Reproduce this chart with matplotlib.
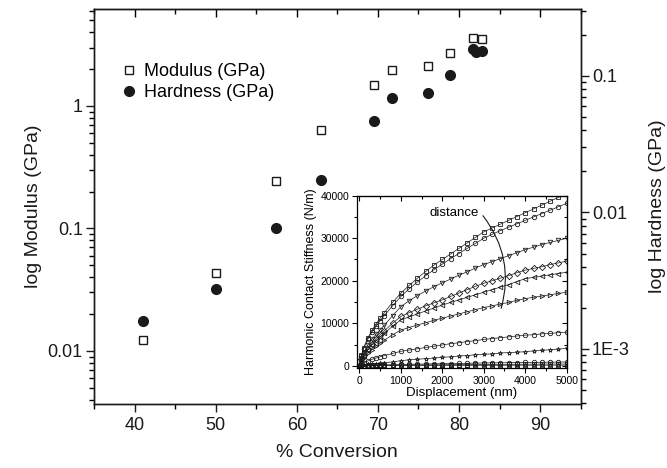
import matplotlib
matplotlib.use("Agg")
import matplotlib.pyplot as plt
from matplotlib.ticker import FixedLocator, FuncFormatter, LogLocator, MultipleLocator, NullFormatter
from matplotlib.lines import Line2D

plt.rcParams["font.family"] = ["Liberation Sans", "DejaVu Sans"]

# ── 主图数据：转化率 vs 模量 / 硬度 ──
conv_mod = [41, 50, 57.4, 63, 69.5, 71.8, 76.2, 78.9, 81.7, 82.8]
modulus = [0.0122, 0.0435, 0.243, 0.631, 1.49, 1.96, 2.13, 2.70, 3.56, 3.51]

conv_hard = [41, 50, 57.4, 63, 69.5, 71.8, 76.2, 78.9, 81.7, 82.1, 82.8]
hardness = [0.00161, 0.00275, 0.00774, 0.0173, 0.0471, 0.0690, 0.0755, 0.1017, 0.158, 0.149, 0.153]

# ── 插图数据：接触刚度 vs 位移 ──
disp_nm = [0, 50, 100, 200, 300, 400, 500, 600, 800, 1000, 1200, 1400, 1600, 1800, 2000,
           2200, 2400, 2600, 2800, 3000, 3200, 3400, 3600, 3800, 4000, 4200, 4400, 4600, 4800, 5000]
stiff_a1 = [0, 2500, 4200, 6500, 8300, 9800, 11200, 12500, 14900, 17100, 18900, 20600, 22200, 23700, 25000,
            26300, 27600, 28900, 30200, 31500, 32400, 33300, 34200, 35100, 36000, 36900, 37800, 38700, 39600, 40500]
stiff_a2 = [0, 2400, 4000, 6200, 7900, 9300, 10600, 11800, 14100, 16300, 18100, 19700, 21200, 22600, 23900,
            25200, 26400, 27600, 28800, 30000, 30900, 31800, 32600, 33400, 34200, 35000, 35800, 36600, 37400, 38200]
stiff_b = [0, 1800, 3000, 4800, 6200, 7400, 8500, 9500, 11800, 13900, 15300, 16500, 17600, 18600, 19500,
           20400, 21300, 22100, 23000, 23800, 24500, 25200, 25900, 26600, 27300, 27900, 28500, 29000, 29500, 30000]
stiff_c = [0, 1500, 2500, 4000, 5200, 6300, 7300, 8200, 10000, 11600, 12500, 13300, 14100, 14800, 15500,
           16300, 17100, 17900, 18700, 19400, 20000, 20600, 21200, 21900, 22500, 22900, 23300, 23800, 24200, 24600]
stiff_d = [0, 1400, 2300, 3700, 4900, 5900, 6800, 7600, 9300, 10800, 11500, 12200, 12900, 13600, 14300,
           14900, 15500, 16100, 16700, 17300, 17900, 18500, 19100, 19800, 20500, 20800, 21100, 21400, 21700, 22000]
stiff_e = [0, 1100, 1800, 2900, 3800, 4600, 5300, 6000, 7300, 8400, 9000, 9600, 10100, 10700, 11200,
           11700, 12200, 12700, 13200, 13700, 14100, 14500, 14900, 15400, 15800, 16100, 16400, 16700, 17000, 17300]
stiff_f = [0, 400, 700, 1100, 1500, 1800, 2100, 2400, 2900, 3400, 3700, 4000, 4300, 4600, 4900,
           5200, 5400, 5700, 5900, 6200, 6400, 6600, 6800, 7000, 7200, 7300, 7500, 7600, 7800, 7900]
stiff_g = [0, 100, 200, 300, 400, 500, 600, 700, 900, 1200, 1400, 1500, 1700, 1800, 2000,
           2100, 2300, 2400, 2600, 2700, 2800, 3000, 3100, 3200, 3300, 3500, 3600, 3800, 3900, 4100]
stiff_h = [0, 20, 40, 80, 110, 140, 170, 200, 250, 300, 340, 380, 420, 460, 500,
           530, 560, 590, 620, 650, 680, 700, 730, 750, 780, 800, 820, 850, 870, 900]
stiff_i = [0, 10, 20, 40, 50, 70, 80, 100, 120, 150, 170, 190, 210, 220, 240,
           260, 270, 290, 300, 310, 320, 340, 350, 360, 370, 380, 390, 400, 410, 420]
stiff_j = [0, 5, 10, 15, 20, 25, 30, 35, 45, 55, 60, 65, 70, 75, 80,
           85, 90, 95, 100, 105, 110, 115, 120, 125, 130, 135, 140, 145, 150, 155]

inset_series = [
    (stiff_a1, "s"), (stiff_a2, "o"), (stiff_b, "v"), (stiff_c, "D"), (stiff_d, "<"),
    (stiff_e, ">"), (stiff_f, "o"), (stiff_g, "*"), (stiff_h, "o"), (stiff_i, "s"), (stiff_j, "^"),
]

fig = plt.figure(figsize=(6.67, 4.68), dpi=100)
ax = fig.add_axes([0.1409, 0.1368, 0.7297, 0.8433])
ax2 = ax.twinx()

# ── 左轴：模量 ──
ax.plot(conv_mod, modulus, linestyle="none", marker="s", ms=6.2, mfc="white",
        mec="#1a1a1a", mew=1.0, zorder=3)
ax.set_yscale("log")
ax.set_xlim(35, 95)
ax.set_ylim(0.00369, 6.15)
ax.xaxis.set_major_locator(MultipleLocator(10))
ax.xaxis.set_minor_locator(MultipleLocator(5))
ax.yaxis.set_major_locator(FixedLocator([0.01, 0.1, 1]))
ax.yaxis.set_major_formatter(FuncFormatter(lambda v, p: {0.01: "0.01", 0.1: "0.1", 1: "1"}.get(round(v, 4), "")))
ax.yaxis.set_minor_locator(LogLocator(base=10, subs=range(2, 10), numticks=20))
ax.yaxis.set_minor_formatter(NullFormatter())
ax.tick_params(axis="both", which="major", direction="out", length=6, width=1, labelsize=13, colors="#1a1a1a")
ax.tick_params(axis="y", which="major", pad=2)
ax.tick_params(axis="both", which="minor", direction="out", length=3.5, width=1)
ax.set_xlabel("% Conversion", fontsize=14, color="#1a1a1a", labelpad=7)
ax.set_ylabel("log Modulus (GPa)", fontsize=14, color="#1a1a1a", labelpad=4)

top = ax.secondary_xaxis("top")
top.xaxis.set_major_locator(MultipleLocator(10))
top.xaxis.set_minor_locator(MultipleLocator(5))
top.tick_params(which="major", direction="in", length=6, width=1, labeltop=False)
top.tick_params(which="minor", direction="in", length=3.5, width=1)

# ── 右轴：硬度 ──
ax2.plot(conv_hard, hardness, linestyle="none", marker="o", ms=7, mfc="#1a1a1a",
         mec="#1a1a1a", zorder=3)
ax2.set_yscale("log")
ax2.set_ylim(3.95e-4, 0.308)
ax2.yaxis.set_major_locator(FixedLocator([0.001, 0.01, 0.1]))
ax2.yaxis.set_major_formatter(FuncFormatter(lambda v, p: {0.001: "1E-3", 0.01: "0.01", 0.1: "0.1"}.get(round(v, 5), "")))
ax2.yaxis.set_minor_locator(LogLocator(base=10, subs=range(2, 10), numticks=20))
ax2.yaxis.set_minor_formatter(NullFormatter())
ax2.tick_params(axis="y", which="major", direction="out", length=6, width=1, labelsize=13,
                colors="#1a1a1a", pad=2)
ax2.tick_params(axis="y", which="minor", direction="out", length=3.5, width=1)
ax2.set_ylabel("log Hardness (GPa)", fontsize=14, color="#1a1a1a", labelpad=14)

for a in (ax, ax2):
    for s in a.spines.values():
        s.set_linewidth(1.0)
        s.set_color("#1a1a1a")

handles = [
    Line2D([], [], linestyle="none", marker="s", ms=6.2, mfc="white", mec="#1a1a1a", mew=1.0),
    Line2D([], [], linestyle="none", marker="o", ms=7, mfc="#1a1a1a", mec="#1a1a1a"),
]
ax2.legend(handles, ["Modulus (GPa)", "Hardness (GPa)"], loc="upper left",
           bbox_to_anchor=(0.03, 0.895), frameon=False, fontsize=13,
           handlelength=0.9, handletextpad=0.35, labelspacing=0.2, borderpad=0.2)

# ── 插图 ──
ax_in = fig.add_axes([0.5348, 0.2130, 0.3157, 0.3688])
ax_in.set_zorder(5)
for vals, mk in inset_series:
    ax_in.plot(disp_nm, vals, color="#1a1a1a", lw=0.5, marker=mk, ms=3.2,
               mfc="none", mec="#1a1a1a", mew=0.6, clip_on=True)
ax_in.set_xlim(-65, 5015)
ax_in.set_ylim(-600, 40000)
ax_in.xaxis.set_major_locator(MultipleLocator(1000))
ax_in.xaxis.set_minor_locator(MultipleLocator(500))
ax_in.yaxis.set_major_locator(MultipleLocator(10000))
ax_in.yaxis.set_minor_locator(MultipleLocator(5000))
ax_in.tick_params(which="major", direction="out", length=3.5, width=0.8, labelsize=7.5, pad=2)
ax_in.tick_params(which="minor", direction="out", length=2, width=0.8)
ax_in.set_xlabel("Displacement (nm)", fontsize=9.5, labelpad=1)
ax_in.set_ylabel("Harmonic Contact Stiffness (N/m)", fontsize=9, labelpad=2)
for s in ax_in.spines.values():
    s.set_linewidth(0.9)

in_top = ax_in.secondary_xaxis("top")
in_top.xaxis.set_major_locator(MultipleLocator(1000))
in_top.xaxis.set_minor_locator(MultipleLocator(500))
in_top.tick_params(which="major", direction="in", length=3.5, width=0.8, labeltop=False)
in_top.tick_params(which="minor", direction="in", length=2, width=0.8)
in_right = ax_in.secondary_yaxis("right")
in_right.yaxis.set_major_locator(MultipleLocator(10000))
in_right.yaxis.set_minor_locator(MultipleLocator(5000))
in_right.tick_params(which="major", direction="in", length=3.5, width=0.8, labelright=False)
in_right.tick_params(which="minor", direction="in", length=2, width=0.8)

ax_in.text(2290, 35900, "distance", fontsize=9.5, ha="center", va="center")
ax_in.annotate("", xy=(3420, 13500), xytext=(2980, 35300),
               arrowprops=dict(arrowstyle="-", connectionstyle="arc3,rad=-0.25",
                               lw=0.8, color="#1a1a1a", shrinkA=0, shrinkB=0))

plt.savefig("out.png", dpi=100)
plt.close()
